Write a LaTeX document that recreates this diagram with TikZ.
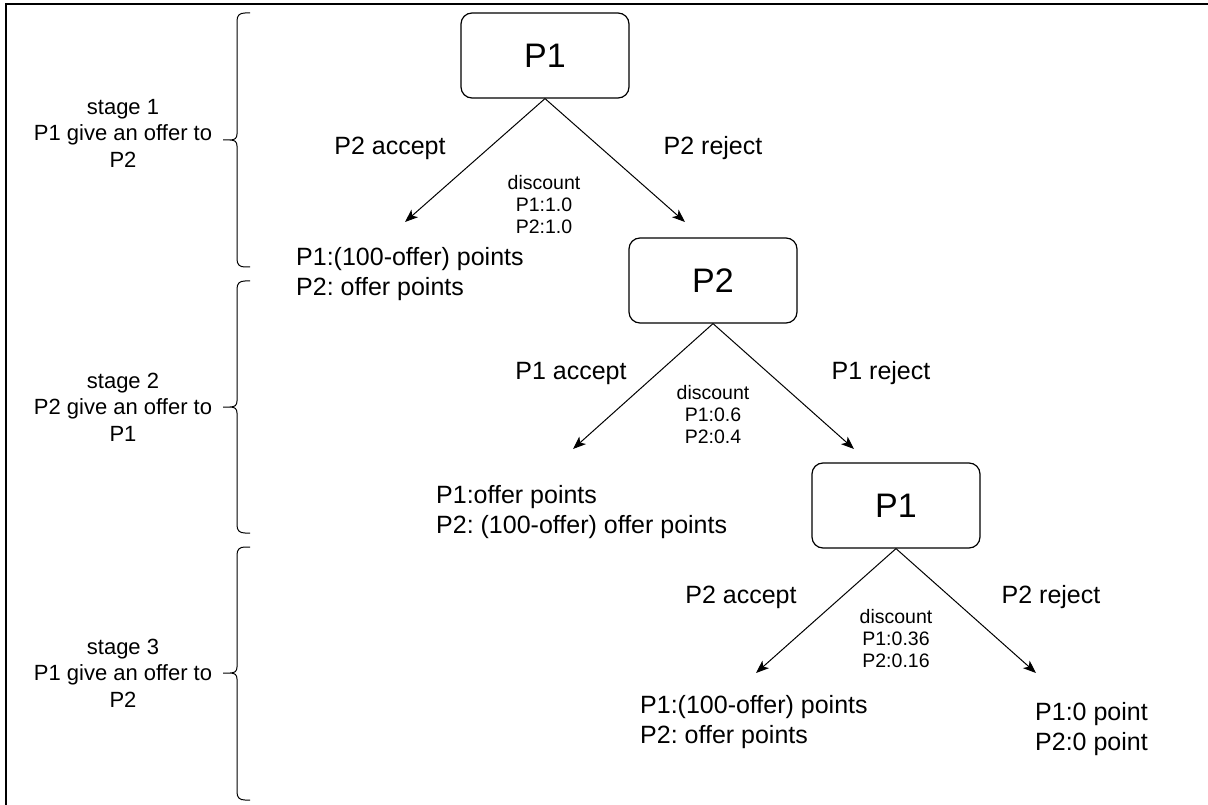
\documentclass[tikz,border=0pt]{standalone}
\usepackage{fontspec}
\setmainfont{Liberation Sans}
\usetikzlibrary{arrows.meta}
\frenchspacing

% curly bracket opening to the right: top, tip and bottom heights
\newcommand\stagebrace[3]{%
  \draw[bracket] (250,#1) -- (245,#1)
    .. controls (239.5,#1) and (237,#1+2.5) .. (237,#1+8)
    -- (237,#2-6) .. controls (237,#2-2) and (235,#2) .. (230,#2) -- (223,#2)
    (230,#2) .. controls (235,#2) and (237,#2+2) .. (237,#2+6)
    -- (237,#3-8) .. controls (237,#3-2.5) and (239.5,#3) .. (245,#3) -- (250,#3);}

\begin{document}
\begin{tikzpicture}[x=1pt,y=-1pt,
  player/.style={draw, rounded corners=11pt, line width=1.2pt,
    minimum width=168pt, minimum height=85pt, inner sep=0pt,
    font=\fontsize{34}{40}\selectfont},
  move/.style={-{Stealth[length=13pt,width=10pt,inset=3.5pt]}, line width=1pt},
  choice/.style={inner sep=0pt, font=\fontsize{25}{29}\selectfont},
  payoff/.style={inner sep=0pt, align=left, anchor=west,
    font=\fontsize{25}{29.5}\selectfont},
  disc/.style={inner sep=0pt, align=center, font=\fontsize{19.5}{22}\selectfont},
  stagetxt/.style={inner sep=0pt, align=center, font=\fontsize{22}{26.5}\selectfont},
  bracket/.style={line width=1pt}]

\useasboundingbox (0,0) rectangle (1208,805);

% frame
\draw[line width=1.5pt] (6,805) -- (6,4) -- (1208,4);

% decision nodes
\node[player] (n1) at (545,55.5) {P1};
\node[player] (n2) at (713,280.5) {P2};
\node[player] (n3) at (896,505.5) {P1};

% arrow end points
\coordinate (a1) at (405,222);
\coordinate (r1) at (685,222);
\coordinate (a2) at (573,449);
\coordinate (r2) at (854,449);
\coordinate (a3) at (756,673);
\coordinate (r3) at (1036,673);

\draw[move] (n1.south) -- (a1);
\draw[move] (n1.south) -- (r1);
\draw[move] (n2.south) -- (a2);
\draw[move] (n2.south) -- (r2);
\draw[move] (n3.south) -- (a3);
\draw[move] (n3.south) -- (r3);

% stage 1
\node[choice] (la1) at (390,148) {P2 accept};
\node[choice] (lr1) at (713,148) {P2 reject};
\node[disc] (d1) at (544,205) {discount\\P1:1.0\\P2:1.0};
\node[payoff] (o1) at (296,274) {P1:(100-offer) points\\P2: offer points};

% stage 2
\node[choice] (la2) at (571,373) {P1 accept};
\node[choice] (lr2) at (881,373) {P1 reject};
\node[disc] (d2) at (713,415) {discount\\P1:0.6\\P2:0.4};
\node[payoff] (o2) at (436,512) {P1:offer points\\P2: (100-offer) offer points};

% stage 3
\node[choice] (la3) at (741,597) {P2 accept};
\node[choice] (lr3) at (1051,597) {P2 reject};
\node[disc] (d3) at (896,639) {discount\\P1:0.36\\P2:0.16};
\node[payoff] (o3) at (640,722) {P1:(100-offer) points\\P2: offer points};
\node[payoff] (o4) at (1035,729) {P1:0 point\\P2:0 point};

% stage captions and brackets
\node[stagetxt] (s1) at (123,133) {stage 1\\P1 give an offer to\\P2};
\node[stagetxt] (s2) at (123,407) {stage 2\\P2 give an offer to\\P1};
\node[stagetxt] (s3) at (123,673) {stage 3\\P1 give an offer to\\P2};

\stagebrace{13}{140}{267}
\stagebrace{281}{407}{533}
\stagebrace{547}{673}{800}

\end{tikzpicture}
\end{document}
